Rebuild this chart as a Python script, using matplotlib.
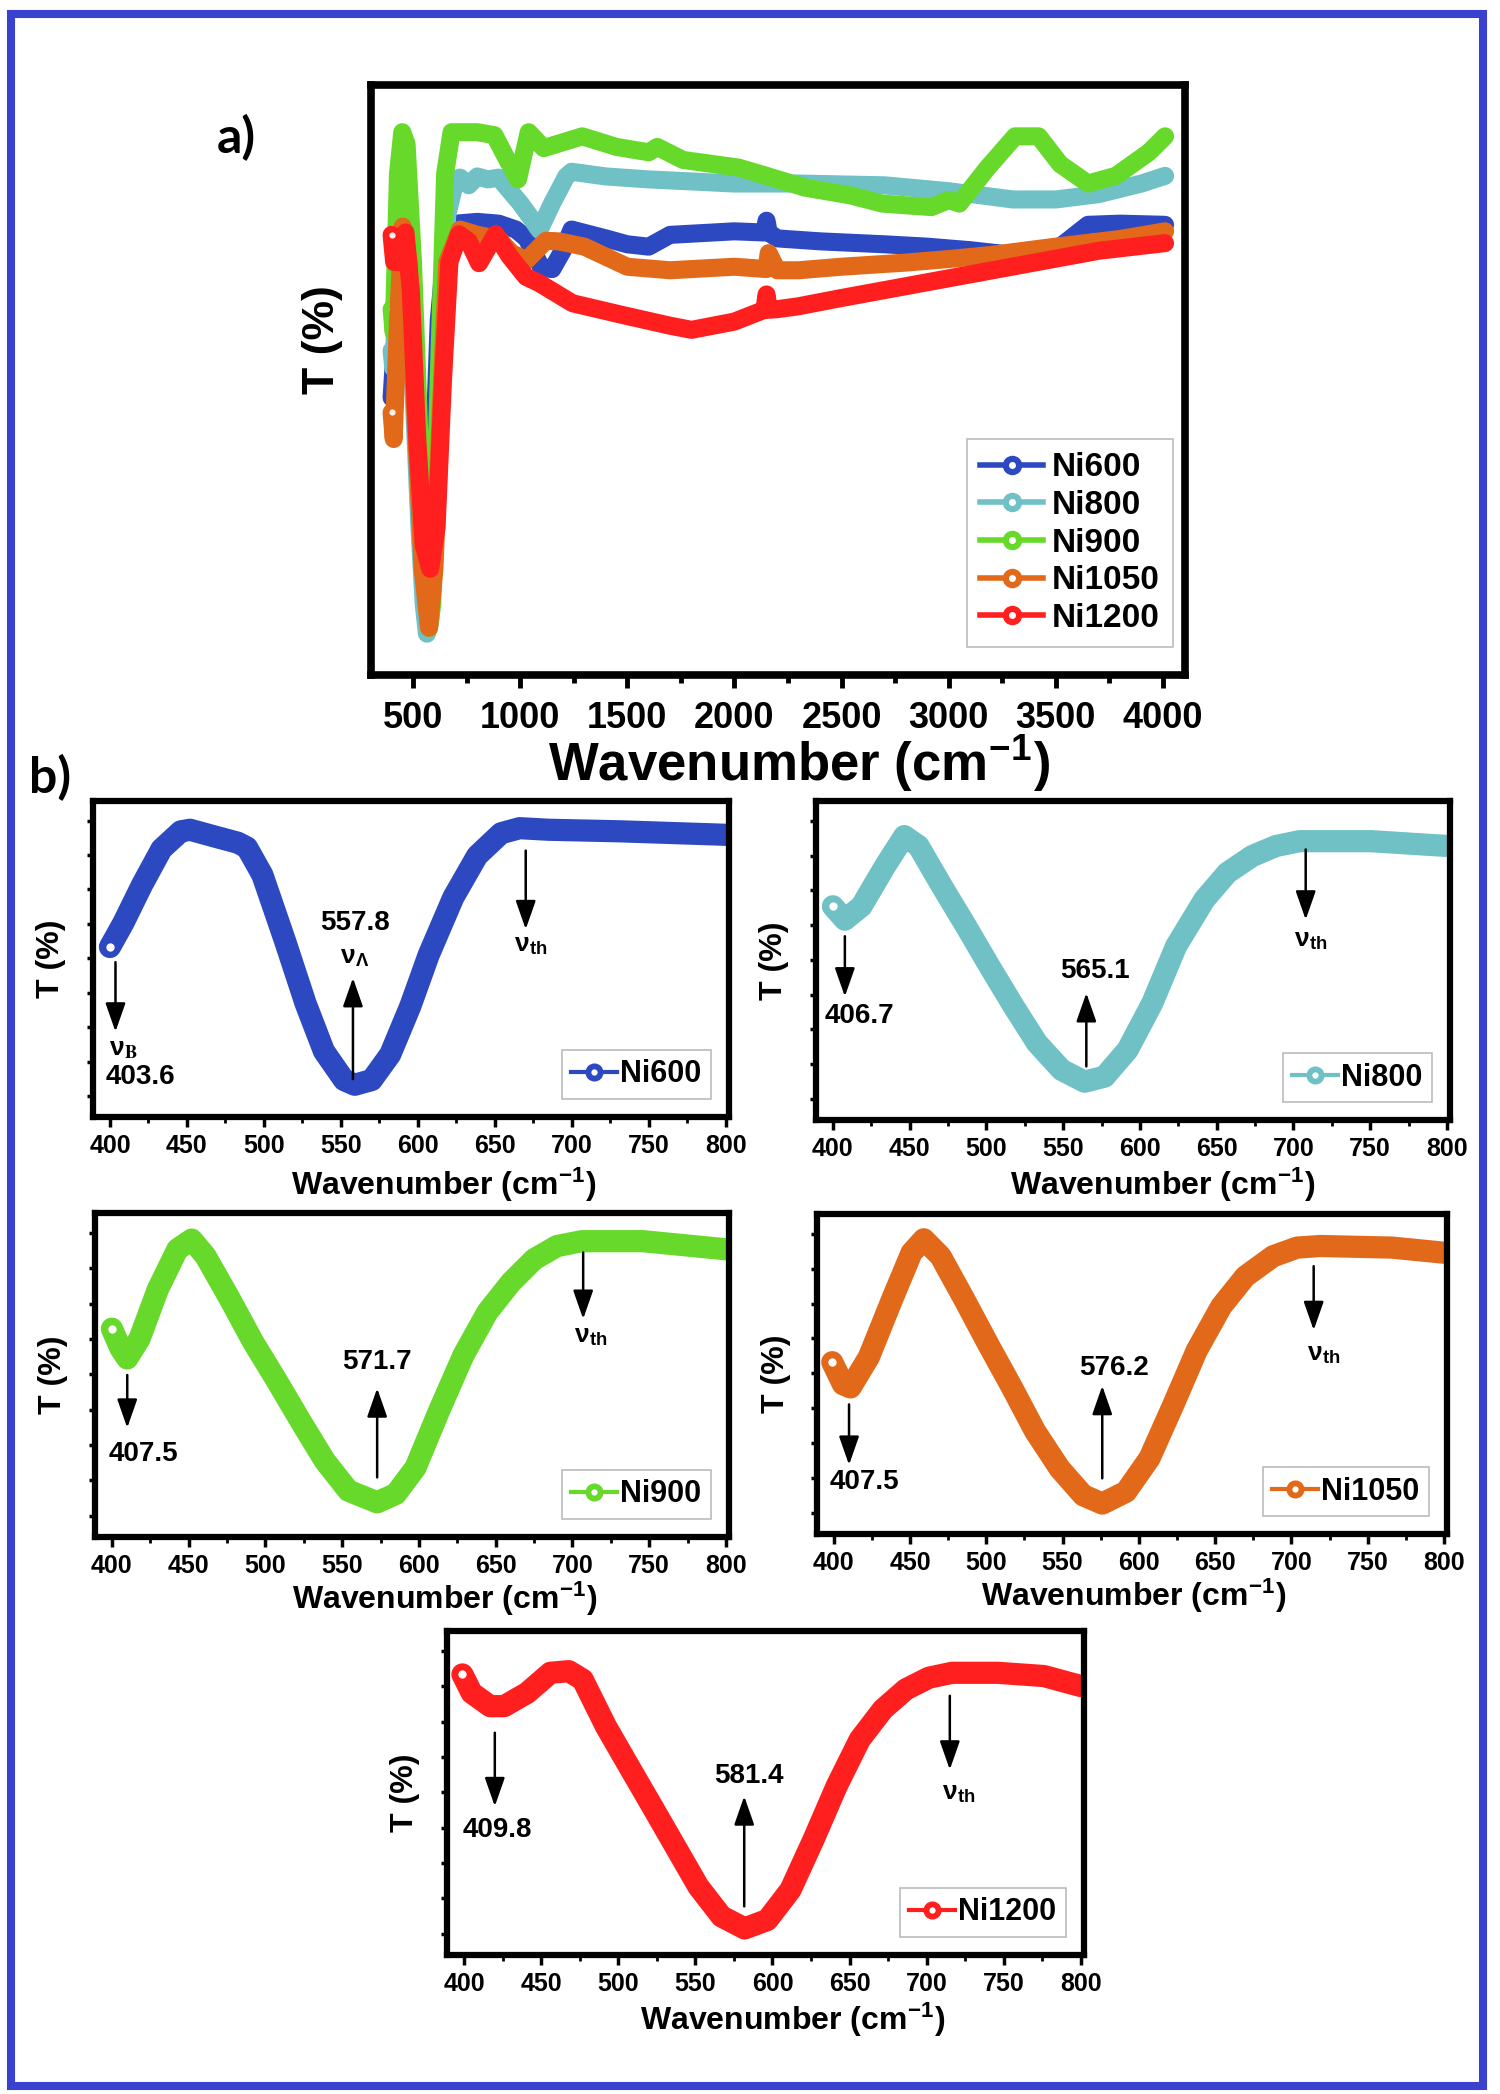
import numpy as np
import matplotlib
matplotlib.use('Agg')
import matplotlib.pyplot as plt
from matplotlib import font_manager as fm
from matplotlib.lines import Line2D
from matplotlib.legend_handler import HandlerTuple
from matplotlib.patches import Rectangle
from matplotlib.ticker import MultipleLocator, NullFormatter

names = {f.name for f in fm.fontManager.ttflist}
SANS = 'Liberation Sans' if 'Liberation Sans' in names else 'DejaVu Sans'
NARROW = 'Liberation Sans Narrow' if 'Liberation Sans Narrow' in names else SANS
LABEL_FONT = 'Lato' if 'Lato' in names else SANS
plt.rcParams['font.family'] = [SANS, 'DejaVu Sans']
plt.rcParams['font.weight'] = 'bold'
plt.rcParams['mathtext.fontset'] = 'stix'

# ---------------- data: panel a (full spectra) ----------------
series_names = ['Ni600', 'Ni800', 'Ni900', 'Ni1050', 'Ni1200']
colors = ['#2c49c2', '#6fc1c5', '#67d92b', '#e2691a', '#ff1f1f']

a_ni600_x = [400, 450, 480, 500, 530, 558, 590, 620, 660, 700, 800, 900, 980, 1030, 1100, 1150,
             1200, 1240, 1400, 1500, 1600, 1700, 1900, 2000, 2140, 2150, 2160, 2200, 2400, 2700,
             2900, 3100, 3300, 3500, 3650, 3800, 4010]
a_ni600_y = [47, 76, 74, 55, 30, 10, 30, 60, 76, 76.5, 76.8, 76.5, 75.5, 74, 69, 68.8,
             72, 75.5, 74, 73, 72.6, 74.6, 75, 75.2, 75, 77, 75, 74, 73.5, 73,
             72.6, 72, 71.2, 72, 76.3, 76.5, 76.3]

a_ni800_x = [400, 408, 445, 470, 500, 530, 550, 565, 580, 600, 630, 660, 700, 720, 760, 800,
             850, 900, 1000, 1050, 1090, 1150, 1215, 1240, 1400, 1600, 2000, 2300, 2700, 3000,
             3300, 3500, 3700, 3900, 4010]
a_ni800_y = [55, 52, 80, 70, 50, 25, 12, 7, 9, 20, 55, 78, 84, 84.3, 83, 84.5,
             84, 84.3, 80, 77.5, 75.4, 80, 84.5, 85.3, 84.5, 84, 83.3, 83.3, 83, 82,
             80.6, 80.6, 81.5, 83.3, 84.6]

a_ni900_x = [400, 410, 430, 450, 470, 500, 530, 560, 575, 590, 620, 650, 680, 720, 800, 880,
             930, 990, 1040, 1110, 1290, 1450, 1600, 1640, 1760, 2020, 2150, 2330, 2540, 2690,
             2920, 3000, 3050, 3180, 3310, 3420, 3520, 3650, 3780, 3935, 4010]
a_ni900_y = [62, 58, 85, 92, 90, 70, 40, 15, 8, 12, 50, 85, 92, 92, 92, 91.5,
             88, 84, 92, 89.3, 91.3, 89.5, 88.6, 89.5, 87.3, 86, 84.6, 82.6, 81.3, 79.9,
             79.3, 80.5, 79.9, 85.9, 91.3, 91.3, 86.6, 83.3, 84.6, 88.6, 91.3]

a_ni1050_x = [400, 410, 430, 452, 480, 510, 545, 575, 600, 630, 660, 720, 800, 900, 960, 1030,
              1120, 1180, 1300, 1500, 1700, 2000, 2150, 2160, 2200, 2300, 2500, 2800, 3000, 3200,
              3500, 3800, 4010]
a_ni1050_y = [44.5, 40, 60, 76, 70, 45, 18, 8, 18, 45, 70, 75.5, 74.6, 73.9, 71.5, 70.3,
              73.6, 73.5, 72.6, 69.2, 68.6, 69.2, 68.8, 71.5, 68.6, 68.6, 69.2, 69.9, 70.5, 71.2,
              72.6, 73.9, 75.2]

a_ni1200_x = [400, 412, 430, 465, 490, 520, 550, 580, 610, 640, 670, 715, 760, 808, 886, 950,
              1027, 1090, 1245, 1480, 1700, 1800, 2000, 2140, 2150, 2160, 2200, 2300, 2500, 2800,
              3100, 3400, 3700, 4010]
a_ni1200_y = [74.6, 70, 70, 75, 65, 40, 22, 18, 25, 50, 70, 74.7, 73.5, 69.8, 74.7, 71,
              67.5, 66.4, 63, 61, 59.2, 58.5, 59.9, 61.9, 64.5, 61.9, 62, 62.5, 63.9, 65.9,
              67.9, 69.9, 71.9, 73.2]

a_x = [a_ni600_x, a_ni800_x, a_ni900_x, a_ni1050_x, a_ni1200_x]
a_y = [a_ni600_y, a_ni800_y, a_ni900_y, a_ni1050_y, a_ni1200_y]

# ---------------- data: panel b (400-800 cm-1 region) ----------------
b600_x = [400, 408.7, 421, 433.5, 446, 452, 467.7, 483, 489, 499, 514, 527, 539, 552, 559, 570,
          582, 595, 607, 623, 638.5, 654, 666, 685, 731.7, 800]
b600_y = [53.8, 61.4, 73.6, 84.8, 90.4, 90.9, 88.8, 86.8, 85.3, 76.6, 55.3, 36, 20.8, 11.7, 10.2, 11.7,
          19.8, 35, 51.3, 69.5, 82.7, 89.8, 91.4, 90.9, 90.4, 89.3]
b800_x = [400, 407.8, 418.6, 434, 446.5, 455.8, 471, 486.8, 502, 517.8, 533, 549, 564, 577, 592,
          608, 623.6, 642, 657, 673, 688.7, 704, 750.7, 800]
b800_y = [67, 62.8, 67, 79.6, 89, 85.9, 73.3, 60.7, 48.2, 35.6, 24.1, 15.7, 12, 13.6, 22,
          36.6, 54.5, 69.1, 77.5, 82.7, 85.9, 87.4, 87.4, 85.9]
b900_x = [400, 405.6, 410, 418, 430, 442.7, 452, 461, 476.8, 492, 507.7, 523, 538.7, 554, 572.8,
          585, 597.8, 613, 629, 644.6, 660, 675, 690, 706, 746, 800]
b900_y = [64.3, 58.2, 55.1, 61.2, 76.5, 88.8, 91.8, 86.7, 73.5, 60.2, 48, 35.7, 23.5, 14.3, 10.7,
          13.3, 21.4, 38.8, 56.1, 69.4, 78.6, 85.7, 89.8, 91.3, 91.3, 88.8]
b1050_x = [399, 406, 411, 423, 439, 451, 459, 470, 485.7, 501, 516.8, 532, 548, 563.5, 576,
           591.6, 607, 622.7, 638, 654, 669.8, 688, 703.7, 719, 766, 800]
b1050_y = [53.7, 46.8, 45.8, 55.3, 74.2, 87.9, 92.1, 86.8, 73.2, 59.5, 45.8, 32.1, 20.5, 12.1, 9.5,
           13.2, 23.7, 40.5, 57.4, 71.1, 80.5, 86.8, 89.5, 90, 89.5, 87.9]
b1200_x = [399, 405, 417, 426, 441, 456, 468, 477, 492, 507, 522, 537, 552, 567, 582, 596.7,
           611.7, 626.6, 641.6, 656.6, 671.6, 686.5, 701.5, 716.5, 746, 776, 800]
b1200_y = [86.6, 80.9, 76.8, 76.8, 80.9, 87.1, 87.6, 85, 70.6, 58.2, 45.9, 33.5, 21.1, 11.9, 8.2, 10.8,
           20.1, 35.6, 52.1, 66.5, 75.8, 82, 85.6, 87.1, 87.1, 86.1, 83]

b_x = [b600_x, b800_x, b900_x, b1050_x, b1200_x]
b_y = [b600_y, b800_y, b900_y, b1050_y, b1200_y]
nu_B_labels = ['403.6', '406.7', '407.5', '407.5', '409.8']
nu_A_labels = ['557.8', '565.1', '571.7', '576.2', '581.4']
panel_xticks = [400, 450, 500, 550, 600, 650, 700, 750, 800]
a_xticks = [500, 1000, 1500, 2000, 2500, 3000, 3500, 4000]

# ---------------- layout (positions only) ----------------
W, H = 1500, 2094
fig = plt.figure(figsize=(W / 100, H / 100), dpi=100)

def rect(l, t, r, b):
    return [l / W, 1 - b / H, (r - l) / W, (b - t) / H]

border = Rectangle((11 / W, 8 / H), (1483 - 11) / W, (2080 - 8) / H, transform=fig.transFigure,
                   fill=False, edgecolor='#3a40cf', lw=5.8, zorder=0)
fig.patches.append(border)

fig.text(236 / W, 1 - 138 / H, 'a)', fontsize=36, fontweight='bold', family=LABEL_FONT,
         ha='center', va='center')
fig.text(50 / W, 1 - 778 / H, 'b)', fontsize=36, fontweight='bold', family=LABEL_FONT,
         ha='center', va='center')

SUP = r'Wavenumber (cm$^{\mathregular{-1}}$)'

# ---------------- panel a ----------------
axa = fig.add_axes(rect(371, 85, 1185, 675))
for xs, ys, c in zip(a_x, a_y, colors):
    axa.plot(xs, ys, color=c, lw=13, solid_capstyle='round', solid_joinstyle='round')
    axa.plot(xs[:1], ys[:1], ls='none', marker='o', ms=6, mfc='#fff0f0', mec=c, mew=1.5)
axa.set_xlim(304, 4103)
axa.set_ylim(0, 100)
axa.set_xticks(a_xticks)
axa.xaxis.set_minor_locator(MultipleLocator(250))
axa.set_yticks([])
axa.tick_params(axis='x', which='major', direction='out', length=9.5, width=3.5, labelsize=26, pad=9)
axa.tick_params(axis='x', which='minor', direction='out', length=6, width=3.5)
for lab in axa.get_xticklabels():
    lab.set_fontweight('bold')
for sp in axa.spines.values():
    sp.set_linewidth(5.5)
axa.set_xlabel(SUP, fontsize=38, fontweight='bold')
axa.xaxis.set_label_coords(0.526, -0.098)
axa.set_ylabel('T (%)', fontsize=32, fontweight='bold')
axa.yaxis.set_label_coords(-0.035, 0.568)

handles = []
for c in colors:
    h1 = Line2D([], [], color=c, lw=4, marker='o', ms=13, mfc=c, mec=c)
    h2 = Line2D([], [], ls='none', marker='o', ms=5, mfc='white', mec='none')
    handles.append((h1, h2))
leg = axa.legend(handles, series_names, handler_map={tuple: HandlerTuple(ndivide=1, pad=0)},
                 loc='lower right', bbox_to_anchor=(0.985, 0.047), borderaxespad=0,
                 prop={'size': 24, 'weight': 'bold'}, handlelength=1.9, handletextpad=0.25,
                 labelspacing=0.2, borderpad=0.4, fancybox=False, framealpha=1,
                 edgecolor='#b8bcc0')
leg.get_frame().set_linewidth(1.2)

# ---------------- panel b ----------------
panel_rects = [rect(93, 801, 729, 1117), rect(816, 801, 1450, 1120), rect(95, 1213, 729, 1537),
               rect(817, 1214, 1447, 1534), rect(447, 1631, 1084, 1955)]
# annotation layout: arrow (x, tail_y, head_y), text (x, y)
annot = [
    dict(arrB=(403.6, 49, 27), txtB=(419.6, 12.7), symB=(408.7, 21.5),
         arrA=(557.8, 12, 44), txtA=(559, 61.4), symA=(559, 50.5),
         arrT=(670, 84.3, 59.4), symT=(673, 54.5), xlab=(0.552, -0.155)),
    dict(arrB=(407.8, 57.6, 38.7), txtB=(417, 32.5),
         arrA=(565.1, 16.8, 39.8), txtA=(570.5, 46.6),
         arrT=(708, 84.8, 62.8), symT=(711, 56.5), xlab=(0.547, -0.144)),
    dict(arrB=(410, 50, 33.7), txtB=(420.7, 25.5),
         arrA=(572.8, 18.4, 45.9), txtA=(572.8, 54.1),
         arrT=(707, 87.8, 67.3), symT=(712, 62), xlab=(0.552, -0.13)),
    dict(arrB=(410, 40.5, 21.6), txtB=(420, 16.3),
         arrA=(576, 17.4, 46.3), txtA=(583.8, 52),
         arrT=(714.6, 83.7, 63.7), symT=(720.9, 56.3), xlab=(0.503, -0.134)),
    dict(arrB=(420, 68.6, 45.9), txtB=(421.6, 38.7),
         arrA=(581.7, 15, 49), txtA=(584.7, 55.2),
         arrT=(715, 80, 57.2), symT=(721, 50), xlab=(0.543, -0.14)),
]
arrow_props = dict(arrowstyle='-|>,head_length=0.8,head_width=0.28', color='black', lw=1.8,
                   mutation_scale=22, shrinkA=0, shrinkB=0)

for i in range(5):
    ax = fig.add_axes(panel_rects[i])
    c = colors[i]
    ax.plot(b_x[i], b_y[i], color=c, lw=16, solid_capstyle='round', solid_joinstyle='round')
    ax.plot(b_x[i][:1], b_y[i][:1], ls='none', marker='o', ms=8, mfc='white', mec=c, mew=2)
    ax.set_xlim(389, 802)
    ax.set_ylim(0, 100)
    ax.set_xticks(panel_xticks)
    ax.xaxis.set_minor_locator(MultipleLocator(25))
    ax.set_yticks(np.arange(6.6, 100, 10.9))
    ax.yaxis.set_major_formatter(NullFormatter())
    ax.tick_params(axis='x', which='major', direction='out', length=7, width=2.5, labelsize=18, pad=5)
    ax.tick_params(axis='x', which='minor', direction='out', length=4, width=2)
    ax.tick_params(axis='y', which='major', direction='out', length=4, width=2.5)
    for lab in ax.get_xticklabels():
        lab.set_fontweight('bold')
        lab.set_family([NARROW, SANS])
    for sp in ax.spines.values():
        sp.set_linewidth(4.5)
    ax.set_xlabel(SUP, fontsize=23, fontweight='bold')
    ax.xaxis.set_label_coords(*annot[i]['xlab'])
    ax.set_ylabel('T (%)', fontsize=23, fontweight='bold')
    ax.yaxis.set_label_coords(-0.042, 0.5)

    a = annot[i]
    x0, yt, yh = a['arrB']
    ax.annotate('', xy=(x0, yh), xytext=(x0, yt), arrowprops=arrow_props)
    ax.text(*a['txtB'], nu_B_labels[i], fontsize=20, fontweight='bold', ha='center', va='center')
    x0, yt, yh = a['arrA']
    ax.annotate('', xy=(x0, yh), xytext=(x0, yt), arrowprops=arrow_props)
    ax.text(*a['txtA'], nu_A_labels[i], fontsize=20, fontweight='bold', ha='center', va='center')
    x0, yt, yh = a['arrT']
    ax.annotate('', xy=(x0, yh), xytext=(x0, yt), arrowprops=arrow_props)
    ax.text(*a['symT'], r'ν$_{\mathregular{th}}$', fontsize=19, fontweight='bold', ha='center', va='center')
    if 'symB' in a:
        ax.text(*a['symB'], r'ν$_{\mathrm{B}}$', fontsize=19, fontweight='bold', ha='center', va='center')
        ax.text(*a['symA'], r'ν$_{\mathregular{Λ}}$', fontsize=19, fontweight='bold', ha='center', va='center')

    h1 = Line2D([], [], color=c, lw=3, marker='o', ms=12, mfc=c, mec=c)
    h2 = Line2D([], [], ls='none', marker='o', ms=4.5, mfc='white', mec='none')
    lg = ax.legend([(h1, h2)], [series_names[i]], handler_map={tuple: HandlerTuple(ndivide=1, pad=0)},
                   loc='lower right', borderaxespad=0.6, prop={'size': 22, 'weight': 'bold'},
                   handlelength=1.5, handletextpad=0.1, borderpad=0.3, fancybox=False,
                   framealpha=1, edgecolor='#b8bcc0')
    lg.get_frame().set_linewidth(1.2)

fig.savefig('out.png', dpi=100, facecolor='white')
